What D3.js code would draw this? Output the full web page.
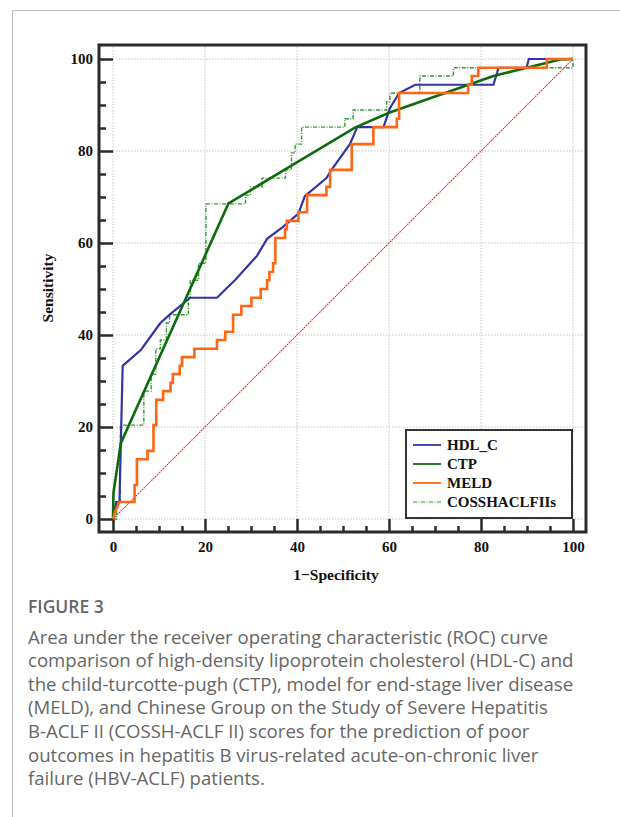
<!DOCTYPE html>
<html>
<head>
<meta charset="utf-8">
<script src="https://cdn.jsdelivr.net/npm/d3@7"></script>
<style>
  html, body { margin: 0; padding: 0; background: #fff; }
  svg { display: block; }
  .tick text { font-family: "Liberation Serif", "Times New Roman", serif; font-weight: bold; font-size: 15px; fill: #111; }
  .caption { font-family: "Open Sans", "Noto Sans", sans-serif; fill: #666; }
</style>
</head>
<body>
<svg id="chart" width="620" height="817"></svg>
<script>
// ROC points as [1 - specificity, sensitivity] in percent
var hdlC = [[0,0],[0.7,3.7],[1.4,3.7],[2.1,33.3],[6.1,36.8],[10.3,42.6],[12.5,44.6],[16.8,48.1],
  [22.6,48.1],[26.6,52.0],[31.3,57.2],[33.5,60.9],[37.1,63.6],[40.3,66.4],[41.7,70.2],[46.4,74.1],
  [47.5,75.9],[51.5,81.5],[53.1,85.2],[58.8,85.2],[60.2,89.3],[62.2,92.6],[65.7,94.4],[82.7,94.4],
  [83.5,97.0],[83.8,98.1],[89.9,98.1],[90.4,100],[100,100]];

var ctp = [[0,0],[0.1,5.7],[1.7,16.5],[25.1,68.6],[38.6,76.7],[52.6,85.1],[60,88.3],[82.7,96.3],
  [97.2,99.9],[100,100]];

var meld = [[0,0],[0.6,1.9],[1.4,3.7],[4.7,3.7],[4.7,7.4],[5.2,7.4],[5.2,13.0],[7.5,13.0],[7.5,14.8],
  [8.8,14.8],[8.8,20.4],[9.4,20.4],[9.4,25.9],[10.9,25.9],[10.9,27.8],[12.5,27.8],[12.5,29.6],
  [13.0,29.6],[13.0,31.5],[14.5,31.5],[14.5,33.3],[15.0,33.3],[15.0,35.2],[17.7,35.2],[17.7,37.0],
  [22.6,37.0],[22.6,38.9],[24.4,38.9],[24.4,40.7],[26.1,40.7],[26.1,44.4],[27.9,44.4],[27.9,46.3],
  [30.1,46.3],[30.1,48.1],[32.1,48.1],[32.1,50.0],[33.5,50.0],[33.5,51.9],[34.0,51.9],[34.0,53.7],
  [34.8,53.7],[34.8,55.6],[35.3,55.6],[35.3,61.1],[37.4,61.1],[37.4,63.0],[37.8,63.0],[37.8,64.8],
  [40.3,64.8],[40.3,66.7],[42.2,66.7],[42.2,70.4],[46.4,70.4],[46.4,72.2],[47.2,72.2],[47.2,75.9],
  [51.9,75.9],[51.9,81.5],[56.6,81.5],[56.6,85.2],[61.7,85.2],[61.7,87.0],[62.2,87.0],[62.2,92.6],
  [77.2,92.6],[77.2,94.4],[78.0,94.4],[78.0,96.3],[79.4,96.3],[79.4,98.1],[94.3,98.1],[94.3,100],
  [100,100]];

var cossh = [[0,0],[0.8,0],[0.8,3.7],[1.6,3.7],[1.6,20.4],[6.7,20.4],[6.7,27.8],[8.3,27.8],[8.3,31.5],
  [9.3,31.5],[9.3,37.0],[10.3,37.0],[10.3,38.9],[11.6,38.9],[11.6,42.6],[12.3,42.6],[12.3,44.4],
  [16.4,44.4],[16.4,48.1],[16.8,48.1],[16.8,51.9],[18.6,51.9],[18.6,55.6],[20.2,55.6],[20.2,68.5],
  [28.8,68.5],[28.8,70.4],[29.9,70.4],[29.9,72.2],[32.4,72.2],[32.4,74.1],[37.5,74.1],[37.5,75.9],
  [38.8,75.9],[38.8,79.6],[39.6,79.6],[39.6,81.5],[41.0,81.5],[41.0,85.2],[50.4,85.2],[50.4,87.0],
  [52.2,87.0],[52.2,88.9],[59.5,88.9],[59.5,90.7],[60.2,90.7],[60.2,92.6],[66.7,92.6],[66.7,96.3],
  [74.0,96.3],[74.0,98.1],[100,98.1],[100,100]];

var chance = [[0,0],[100,100]];

var majorTicks = [0, 20, 40, 60, 80, 100];
var minorTicks = d3.range(0, 101, 5).filter(function(v) { return v % 20 !== 0; });

var legendNames = ["HDL_C", "CTP", "MELD", "COSSHACLFIIs"];

var captionTitle = "FIGURE 3";
var captionLines = [
  "Area under the receiver operating characteristic (ROC) curve",
  "comparison of high-density lipoprotein cholesterol (HDL-C) and",
  "the child-turcotte-pugh (CTP), model for end-stage liver disease",
  "(MELD), and Chinese Group on the Study of Severe Hepatitis",
  "B-ACLF II (COSSH-ACLF II) scores for the prediction of poor",
  "outcomes in hepatitis B virus-related acute-on-chronic liver",
  "failure (HBV-ACLF) patients."
];

var svg = d3.select("#chart");
var serif = "'Liberation Serif', 'Times New Roman', serif";

// page border
svg.append("path")
  .attr("d", "M12.5,817 L12.5,10.5 L620,10.5")
  .attr("fill", "none")
  .attr("stroke", "#bdbdbd")
  .attr("stroke-width", 1);

var frame = { left: 99, right: 586, top: 45, bottom: 532 };

var x = d3.scaleLinear().domain([0, 100]).range([113, 573]);
var y = d3.scaleLinear().domain([0, 100]).range([519, 59]);

// grid
var grid = svg.append("g").attr("stroke", "#c4c4c4").attr("stroke-width", 1)
  .attr("stroke-dasharray", "1.5,1.5");
grid.selectAll(".gx").data(majorTicks).enter().append("line")
  .attr("x1", function(d) { return x(d); }).attr("x2", function(d) { return x(d); })
  .attr("y1", frame.top + 2).attr("y2", frame.bottom - 2);
grid.selectAll(".gy").data(majorTicks).enter().append("line")
  .attr("y1", function(d) { return y(d); }).attr("y2", function(d) { return y(d); })
  .attr("x1", frame.left + 2).attr("x2", frame.right - 2);

// axes with inward ticks
function styleAxis(g) {
  g.select(".domain").remove();
  g.selectAll(".tick line").attr("stroke", "#2b2b2b").attr("stroke-width", 2.5);
}

svg.append("g")
  .attr("transform", "translate(0," + frame.bottom + ")")
  .call(d3.axisBottom(x).tickValues(minorTicks).tickSizeInner(-6).tickFormat(""))
  .call(styleAxis);
svg.append("g")
  .attr("transform", "translate(0," + frame.bottom + ")")
  .call(d3.axisBottom(x).tickValues(majorTicks).tickSizeInner(-13).tickPadding(9))
  .call(styleAxis);
svg.append("g")
  .attr("transform", "translate(" + frame.left + ",0)")
  .call(d3.axisLeft(y).tickValues(minorTicks).tickSizeInner(-7).tickFormat(""))
  .call(styleAxis);
svg.append("g")
  .attr("transform", "translate(" + frame.left + ",0)")
  .call(d3.axisLeft(y).tickValues(majorTicks).tickSizeInner(-14).tickPadding(6))
  .call(styleAxis);

// frame
svg.append("rect")
  .attr("x", frame.left).attr("y", frame.top)
  .attr("width", frame.right - frame.left).attr("height", frame.bottom - frame.top)
  .attr("fill", "none").attr("stroke", "#2b2b2b").attr("stroke-width", 3);

var line = d3.line().x(function(d) { return x(d[0]); }).y(function(d) { return y(d[1]); });

var series = [
  { data: chance, color: "#d2453f", width: 1.1, dash: "2,0.7" },
  { data: cossh, color: "#2f9a2f", width: 1.4, dash: "4,1.5,1,1.5" },
  { data: hdlC, color: "#3434a4", width: 2.2, dash: null },
  { data: ctp, color: "#0d6b0d", width: 2.6, dash: null },
  { data: meld, color: "#ff6614", width: 2.6, dash: null }
];

svg.append("g").selectAll("path").data(series).enter().append("path")
  .attr("d", function(s) { return line(s.data); })
  .attr("fill", "none")
  .attr("stroke", function(s) { return s.color; })
  .attr("stroke-width", function(s) { return s.width; })
  .attr("stroke-dasharray", function(s) { return s.dash; })
  .attr("stroke-linejoin", "miter");

// legend
var legendStyles = [series[2], series[3], series[4], series[1]];
var legend = svg.append("g");
legend.append("rect")
  .attr("x", 406).attr("y", 430).attr("width", 166).attr("height", 88)
  .attr("fill", "#fff").attr("stroke", "#333").attr("stroke-width", 2);
var items = legend.selectAll(".item").data(legendNames).enter().append("g")
  .attr("transform", function(d, i) { return "translate(0," + (445 + i * 19) + ")"; });
items.append("line")
  .attr("x1", 413).attr("x2", 441)
  .attr("stroke", function(d, i) { return legendStyles[i].color; })
  .attr("stroke-width", function(d, i) { return i === 3 ? 1.2 : 1.8; })
  .attr("stroke-dasharray", function(d, i) { return legendStyles[i].dash; });
items.append("text")
  .attr("x", 447).attr("dy", "0.35em")
  .attr("font-family", serif).attr("font-weight", "bold").attr("font-size", 15)
  .attr("fill", "#111")
  .text(function(d) { return d; });

// axis titles
svg.append("text")
  .attr("x", 336).attr("y", 580)
  .attr("text-anchor", "middle")
  .attr("font-family", serif).attr("font-weight", "bold").attr("font-size", 15.5)
  .attr("fill", "#111")
  .text("1\u2212Specificity");

svg.append("text")
  .attr("transform", "translate(53,288) rotate(-90)")
  .attr("text-anchor", "middle")
  .attr("font-family", serif).attr("font-weight", "bold").attr("font-size", 15.5)
  .attr("fill", "#111")
  .text("Sensitivity");

// caption
svg.append("text")
  .attr("class", "caption")
  .attr("x", 28).attr("y", 613)
  .attr("font-size", 17.5).attr("font-weight", 600)
  .text(captionTitle);

svg.append("g").selectAll("text").data(captionLines).enter().append("text")
  .attr("class", "caption")
  .attr("x", 28)
  .attr("y", function(d, i) { return 643.5 + i * 23.6; })
  .attr("font-size", 18.6)
  .text(function(d) { return d; });
</script>
</body>
</html>
